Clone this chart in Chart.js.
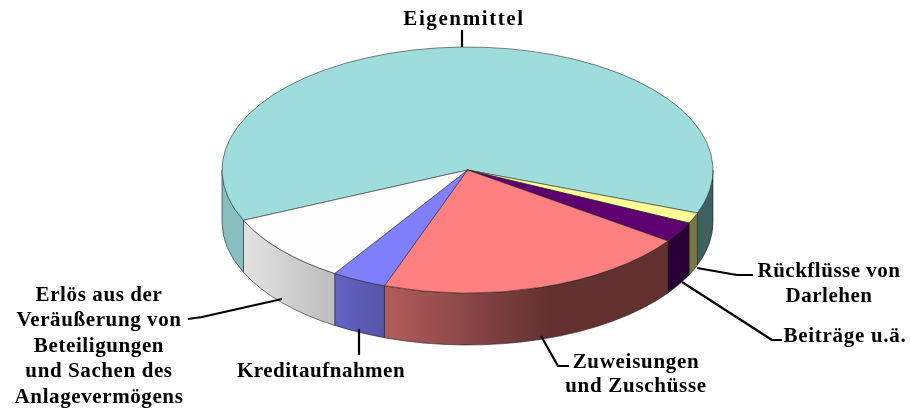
<!DOCTYPE html>
<html lang="de">
<head>
<meta charset="utf-8">
<title>Eigenmittel</title>
<style>
html,body{margin:0;padding:0;background:#fff;overflow:hidden}
canvas{display:block;filter:blur(0.35px)}
</style>
<script src="https://cdn.jsdelivr.net/npm/chart.js@4"></script>
</head>
<body>
<canvas id="c" width="910" height="410"></canvas>
<script>
const categories = ["Eigenmittel","Rückflüsse von Darlehen","Beiträge u.ä.","Zuweisungen und Zuschüsse","Kreditaufnahmen","Erlös aus der Veräußerung von Beteiligungen und Sachen des Anlagevermögens"];
const shares = [62.4,1.4,2.7,20.7,3.6,9.2];
const topColors = ["#9FDDDD","#FFFF99","#5E0070","#FF8080","#8080FF","#FDFDFD"];
const wallLeft = ["#88BEBE","#777744","#2A0038","#B25C5C","#6262C4","#E2E2E2"];
const wallRight = ["#3F6060","#777744","#2A0038","#633030","#5555A8","#BDBDBD"];

const pie = {cx:467.5, cy:170, rx:245.5, ry:123, depth:52};
const labelLines = [
  {lines:["Eigenmittel"], x:464, y:[25], spacing:1.6},
  {lines:["Rückflüsse von","Darlehen"], x:829, y:[277,302], spacing:0.5},
  {lines:["Beiträge u.ä."], x:845, y:[342], spacing:0.7},
  {lines:["Zuweisungen","und Zuschüsse"], x:636, y:[368,392], spacing:0.7},
  {lines:["Kreditaufnahmen"], x:321, y:[377], spacing:0.5},
  {lines:["Erlös aus der","Veräußerung von","Beteiligungen","und Sachen des","Anlagevermögens"], x:99, y:[301,326,352,377,403], spacing:0.6}
];
const leaders = [
  [[462,30],[462,47]],
  [[697,268],[737,275],[753,275]],
  [[682,282],[772,340],[782,340]],
  [[541,336],[558,366],[569,366]],
  [[359,329],[359,355]],
  [[282,299],[202,317],[188,319]]
];

function wallSegments(a,b){
  const out=[];
  for(const k of [-2,0,2]){
    const lo=Math.max(a,k*Math.PI), hi=Math.min(b,(k+1)*Math.PI);
    if(hi>lo) out.push([lo,hi]);
  }
  return out;
}

const pie3d = {
  id:"pie3d",
  beforeDatasetsDraw(chart){
    const ctx=chart.ctx, arcs=chart.getDatasetMeta(0).data, p=pie;
    arcs.forEach((arc,i)=>{
      for(const [a,b] of wallSegments(arc.startAngle,arc.endAngle)){
        const x0=p.cx+p.rx*Math.cos(a), x1=p.cx+p.rx*Math.cos(b);
        const xl=Math.min(x0,x1), xr=Math.max(x0,x1);
        let fill;
        if(i===0){
          const right=(xl+xr)/2>p.cx;
          fill=right?wallRight[0]:wallLeft[0];
        }else{
          const g=ctx.createLinearGradient(xl,0,xr,0);
          g.addColorStop(0,wallLeft[i]);
          g.addColorStop(i===3?0.58:1,wallRight[i]);
          g.addColorStop(1,wallRight[i]);
          fill=g;
        }
        ctx.beginPath();
        ctx.ellipse(p.cx,p.cy,p.rx,p.ry,0,a,b);
        ctx.ellipse(p.cx,p.cy+p.depth,p.rx,p.ry,0,b,a,true);
        ctx.closePath();
        ctx.fillStyle=fill;
        ctx.fill();
        ctx.lineWidth=0.8;
        ctx.strokeStyle="rgba(30,30,30,0.75)";
        ctx.stroke();
      }
    });
    const a0=arcs[0];
    ctx.save();
    ctx.translate(p.cx,p.cy);
    ctx.scale(p.rx/a0.outerRadius,p.ry/a0.outerRadius);
    ctx.translate(-a0.x,-a0.y);
  },
  afterDatasetsDraw(chart){
    const ctx=chart.ctx;
    ctx.restore();
    ctx.strokeStyle="#000";
    ctx.lineWidth=2.2;
    ctx.lineJoin="round";
    for(const path of leaders){
      ctx.beginPath();
      path.forEach((pt,i)=>i?ctx.lineTo(pt[0],pt[1]):ctx.moveTo(pt[0],pt[1]));
      ctx.stroke();
    }
    ctx.fillStyle="#000";
    ctx.font='bold 21px "Liberation Serif"';
    ctx.textAlign="center";
    ctx.textBaseline="alphabetic";
    for(const l of labelLines){
      ctx.letterSpacing=l.spacing+"px";
      l.lines.forEach((t,i)=>ctx.fillText(t,l.x,l.y[i]));
    }
  }
};

new Chart(document.getElementById("c"),{
  type:"pie",
  data:{labels:categories,datasets:[{data:shares,backgroundColor:topColors,borderColor:"rgba(30,30,30,0.75)",borderWidth:0.8,clip:false}]},
  options:{
    responsive:false,
    animation:false,
    rotation:245.85,
    plugins:{legend:{display:false},tooltip:{enabled:false}}
  },
  plugins:[pie3d]
});
</script>
</body>
</html>
